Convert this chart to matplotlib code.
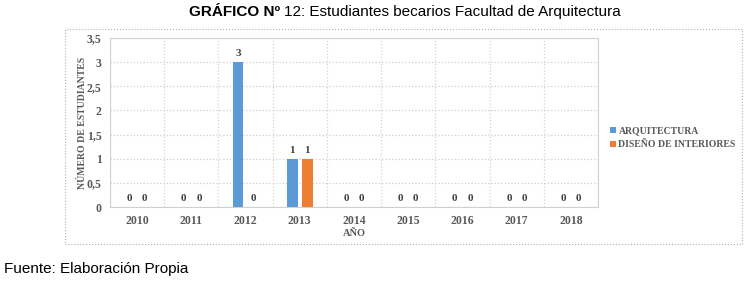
import numpy as np
import matplotlib.pyplot as plt
from matplotlib.patches import Rectangle

years = ['2010', '2011', '2012', '2013', '2014', '2015', '2016', '2017', '2018']
arquitectura = [0, 0, 3, 1, 0, 0, 0, 0, 0]
interiores = [0, 0, 0, 1, 0, 0, 0, 0, 0]
y_ticks = [0, 0.5, 1, 1.5, 2, 2.5, 3, 3.5]
y_tick_labels = ['0', '0,5', '1', '1,5', '2', '2,5', '3', '3,5']

W, H = 748, 281
fig = plt.figure(figsize=(W / 100, H / 100), dpi=100)
ax = fig.add_axes([110 / W, 1 - 207 / H, 488 / W, 169 / H])

serif = 'Liberation Serif'
grey = '#595959'
x = np.arange(len(years))
w = 0.2
off = 0.14
b1 = ax.bar(x - off, arquitectura, w, color='#5B9BD5', label='ARQUITECTURA')
b2 = ax.bar(x + off, interiores, w, color='#ED7D31', label='DISEÑO DE INTERIORES')
for bars, vals in ((b1, arquitectura), (b2, interiores)):
    for rect, v in zip(bars, vals):
        ax.text(rect.get_x() + rect.get_width() / 2, v + 0.08, str(v), ha='center', va='bottom',
                family=serif, fontweight='bold', fontsize=8, color='#404040')

ax.set_xlim(-0.5, len(years) - 0.5)
ax.set_ylim(0, 3.5)
ax.set_yticks(y_ticks)
ax.set_yticklabels(y_tick_labels)
ax.set_xticks(x)
ax.set_xticklabels(years)
ax.set_xticks(np.arange(len(years) + 1) - 0.5, minor=True)
ax.tick_params(which='both', length=0, labelsize=8.5, labelcolor=grey, pad=6)
for lbl in ax.get_xticklabels() + ax.get_yticklabels():
    lbl.set_family(serif)
    lbl.set_fontweight('bold')
ax.grid(axis='y', which='major', color='#d9c8d9', linestyle=':', linewidth=0.9)
ax.grid(axis='x', which='minor', color='#c8d9c8', linestyle=':', linewidth=0.9)
ax.set_axisbelow(True)
for s in ax.spines.values():
    s.set_color('#d0d0d0')
    s.set_linewidth(0.8)

ax.set_xlabel('AÑO', family=serif, fontweight='bold', fontsize=7.5, color=grey, labelpad=1)
ax.set_ylabel('NÚMERO DE ESTUDIANTES', family=serif, fontweight='bold', fontsize=7, color=grey, labelpad=0)

ax.legend(loc='center left', bbox_to_anchor=(601 / W, 1 - 138 / H), bbox_transform=fig.transFigure,
          frameon=False, prop={'family': serif, 'weight': 'bold', 'size': 7},
          handlelength=0.6, handleheight=0.6, handletextpad=0.3, labelspacing=0.5,
          labelcolor=grey)

# chart border
fig.patches.append(Rectangle((65 / W, 1 - 244 / H), 677 / W, 215 / H, transform=fig.transFigure,
                             fill=False, edgecolor='#b0b0b0', linestyle=':', linewidth=0.8))

fig.text(284 / W, 1 - 12 / H, 'GRÁFICO Nº ', ha='right', va='center', family='Liberation Sans',
         fontweight='bold', fontsize=11)
fig.text(284 / W, 1 - 12 / H, '12: Estudiantes becarios Facultad de Arquitectura', ha='left', va='center',
         family='Liberation Sans', fontsize=11)
fig.text(4 / W, 1 - 269 / H, 'Fuente: Elaboración Propia', ha='left', va='center',
         family='Liberation Sans', fontsize=11)

fig.savefig('out.png', dpi=100)
